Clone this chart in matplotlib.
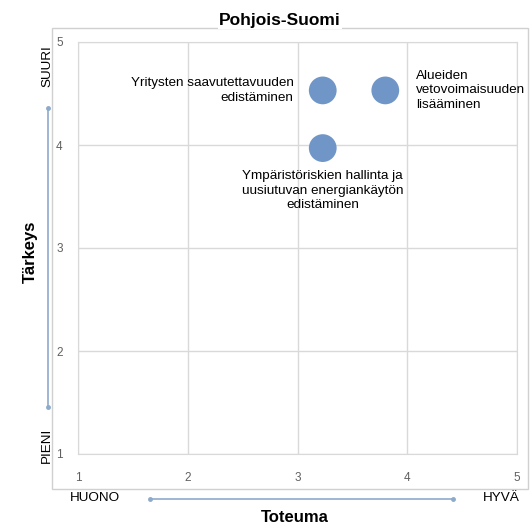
import matplotlib
matplotlib.use("Agg")
import matplotlib.pyplot as plt
from matplotlib.lines import Line2D
from matplotlib.patches import Rectangle

plt.rcParams['font.family'] = ['Liberation Sans', 'DejaVu Sans']

# Data
toteuma = [3.23, 3.80, 3.23]
tarkeys = [4.53, 4.53, 3.97]
labels = [
    "Yritysten saavutettavuuden\nedistäminen",
    "Alueiden\nvetovoimaisuuden\nlisääminen",
    "Ympäristöriskien hallinta ja\nuusiutuvan energiankäytön\nedistäminen",
]
ticks = [1, 2, 3, 4, 5]

W, H = 532, 525
fig = plt.figure(figsize=(W / 100, H / 100), dpi=100)

def fx(px):
    return px / W

def fy(py):
    return 1 - py / H

# outer chart frame
fig.patches.append(Rectangle((fx(52), fy(489)), fx(528) - fx(52), fy(28) - fy(489),
                             transform=fig.transFigure, fill=False,
                             edgecolor="#d0d0d0", linewidth=1))

ax = fig.add_axes([fx(78), fy(454), fx(517) - fx(78), fy(42) - fy(454)])
ax.set_xlim(1, 5)
ax.set_ylim(1, 5)
ax.set_xticks(ticks)
ax.set_yticks(ticks)
ax.grid(True, color="#d9d9d9", linewidth=1)
ax.set_axisbelow(True)
for s in ax.spines.values():
    s.set_color("#d9d9d9")
ax.tick_params(length=0, labelsize=8.5, labelcolor="#606060")
ax.tick_params(axis="x", pad=13)
ax.tick_params(axis="y", pad=11)

ax.scatter(toteuma, tarkeys, s=400, color="#7096c8", edgecolors="none", zorder=3)

# point labels
ax.annotate(labels[0], (toteuma[0], tarkeys[0]), xytext=(-21, 0), textcoords="offset points",
            ha="right", va="center", fontsize=9.7, linespacing=1.25)
ax.annotate(labels[1], (toteuma[1], tarkeys[1]), xytext=(22, 0), textcoords="offset points",
            ha="left", va="center", fontsize=9.7, linespacing=1.25)
ax.annotate(labels[2], (toteuma[2], tarkeys[2]), xytext=(0, -16), textcoords="offset points",
            ha="center", va="top", fontsize=9.7, linespacing=1.25)

# title
fig.text(fx(280), fy(20), "Pohjois-Suomi", ha="center", va="center",
         fontsize=12.5, fontweight="bold",
         bbox=dict(facecolor="white", edgecolor="none", pad=1))

# axis titles and direction arrows
arrow_col = "#8eaacb"
fig.text(fx(30), fy(252), "Tärkeys", rotation=90, ha="center", va="center",
         fontsize=12, fontweight="bold")
fig.text(fx(47), fy(66), "SUURI", rotation=90, ha="center", va="center", fontsize=9.7)
fig.text(fx(47), fy(445), "PIENI", rotation=90, ha="center", va="center", fontsize=9.7)
fig.add_artist(Line2D([fx(48), fx(48)], [fy(407), fy(108)], transform=fig.transFigure,
                      color=arrow_col, linewidth=1.2, marker="o", markersize=2.5))

fig.text(fx(295), fy(518), "Toteuma", ha="center", va="center",
         fontsize=12, fontweight="bold")
fig.text(fx(95), fy(498), "HUONO", ha="center", va="center", fontsize=9.7)
fig.text(fx(501), fy(498), "HYVÄ", ha="center", va="center", fontsize=9.7)
fig.add_artist(Line2D([fx(150), fx(453)], [fy(499), fy(499)], transform=fig.transFigure,
                      color=arrow_col, linewidth=1.2, marker="o", markersize=2.5))

fig.savefig("out.png", dpi=100)
